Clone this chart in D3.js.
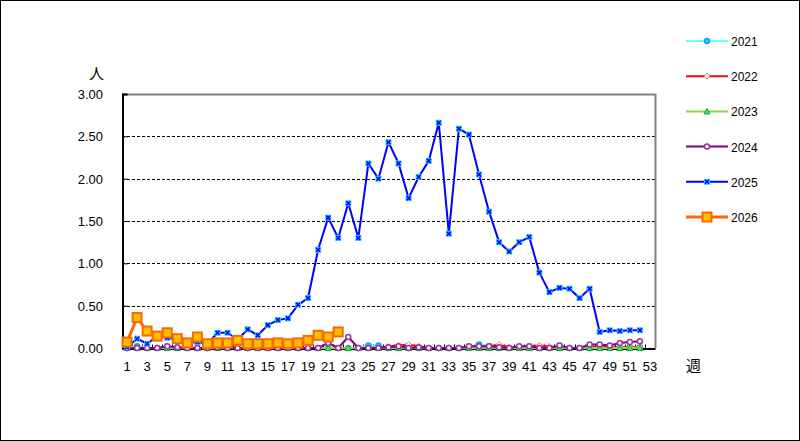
<!DOCTYPE html>
<html>
<head>
<meta charset="utf-8">
<script src="https://cdn.jsdelivr.net/npm/d3@7"></script>
<style>
  body { margin: 0; background: #fff; }
  svg { display: block; }
  text { font-family: "Liberation Sans", Arial, sans-serif; }
</style>
</head>
<body>
<div id="chart"></div>
<script>
// weeks on the x axis
var weeks = d3.range(1, 54);
var xLabels = weeks.filter(function(w) { return w % 2 === 1; });
var yTicks = [0, 0.5, 1, 1.5, 2, 2.5, 3];

// series values, per week (index 0 = week 1)
var y2021 = [0, 0.02, 0, 0, 0, 0, 0, 0, 0, 0, 0, 0, 0, 0, 0, 0, 0, 0, 0, 0,
             0, 0, 0, 0, 0.03, 0.03, 0, 0, 0, 0, 0, 0, 0, 0, 0.01, 0.04, 0.02, 0, 0, 0.01,
             0, 0, 0, 0, 0, 0, 0, 0, 0, 0, 0.01, 0.01];
var y2022 = [0, 0, 0, 0, 0, 0, 0, 0, 0, 0, 0, 0, 0, 0, 0, 0, 0, 0, 0, 0,
             0, 0, 0, 0, 0, 0, 0.02, 0.03, 0.04, 0.02, 0, 0, 0, 0, 0.01, 0.01, 0.02, 0.04, 0.01, 0,
             0.02, 0.03, 0.02, 0, 0, 0, 0.01, 0.02, 0.01, 0.01, 0.01, 0.01];
var y2023 = [0, 0, 0, 0, 0, 0, 0, 0, 0, 0, 0, 0, 0, 0, 0, 0, 0, 0, 0, 0,
             0, 0, 0, 0, 0, 0, 0, 0, 0, 0, 0, 0, 0, 0, 0, 0, 0, 0, 0, 0,
             0, 0, 0, 0, 0, 0, 0, 0, 0, 0, 0, 0];
var y2024 = [0, 0, 0, 0, 0.02, 0.01, 0, 0, 0, 0.01, 0, 0, 0, 0, 0, 0, 0, 0, 0, 0,
             0.06, 0, 0.13, 0, 0, 0, 0.01, 0.02, 0, 0.01, 0, 0, 0, 0, 0.02, 0.02, 0.02, 0.01, 0, 0.02,
             0.02, 0, 0, 0.03, 0, 0, 0.04, 0.04, 0.03, 0.06, 0.07, 0.08];
var y2025 = [0.01, 0.11, 0.05, 0.14, 0.12, 0.10, 0.06, 0.07, 0.05, 0.18, 0.18, 0.10, 0.22, 0.15, 0.27, 0.33, 0.35, 0.51, 0.59, 1.16,
             1.54, 1.30, 1.71, 1.30, 2.18, 2.00, 2.43, 2.18, 1.77, 2.02, 2.21, 2.66, 1.35, 2.59, 2.52, 2.05, 1.61, 1.25, 1.14, 1.25,
             1.31, 0.89, 0.66, 0.71, 0.70, 0.59, 0.70, 0.19, 0.21, 0.20, 0.21, 0.21];
var y2026 = [0.07, 0.36, 0.20, 0.14, 0.18, 0.11, 0.06, 0.13, 0.05, 0.06, 0.06, 0.09, 0.05, 0.05, 0.05, 0.06, 0.05, 0.06, 0.09, 0.15,
             0.13, 0.19];

var seriesNames = ["2021", "2022", "2023", "2024", "2025", "2026"];
var seriesValues = [y2021, y2022, y2023, y2024, y2025, y2026];

// look of each series
var styles = {
  "2021": {line: "#66ffff", width: 2, marker: "circle", fill: "#33ccff", stroke: "#00aaee", size: 4},
  "2022": {line: "#ff0000", width: 2, marker: "diamond", fill: "#ffffff", stroke: "#ff6666", size: 4},
  "2023": {line: "#92d050", width: 2, marker: "triangle", fill: "#66dd66", stroke: "#00aa44", size: 4},
  "2024": {line: "#800080", width: 2, marker: "ring", fill: "#ffffff", stroke: "#993399", size: 4},
  "2025": {line: "#0000ff", width: 2, marker: "cross", fill: "#33ccff", stroke: "#0000ff", size: 5},
  "2026": {line: "#ff6600", width: 3, marker: "square", fill: "#ffc000", stroke: "#ff6600", size: 9}
};

var width = 800, height = 441;
var plot = {left: 122, right: 655, top: 94, bottom: 348};

var svg = d3.select("#chart").append("svg")
    .attr("width", width).attr("height", height);

// outer frame
svg.append("rect")
    .attr("x", 0.5).attr("y", 0.5)
    .attr("width", width - 1).attr("height", height - 1)
    .attr("fill", "#fff").attr("stroke", "#000");

var x = d3.scaleBand().domain(weeks).range([plot.left, plot.right]);
var y = d3.scaleLinear().domain([0, 3]).range([plot.bottom, plot.top]);

// grid lines
svg.append("g").selectAll("line").data(yTicks.slice(1)).enter().append("line")
    .attr("x1", plot.left).attr("x2", plot.right)
    .attr("y1", function(d) { return Math.round(y(d)) + 0.5; })
    .attr("y2", function(d) { return Math.round(y(d)) + 0.5; })
    .attr("stroke", "#000").attr("stroke-dasharray", "3,2");

// top and right border
svg.append("path")
    .attr("d", "M" + plot.left + "," + (plot.top + 0.5) + "H" + (plot.right + 0.5) + "V" + plot.bottom)
    .attr("fill", "none").attr("stroke", "#808080").attr("stroke-width", 2);

// y axis
var yaxis = d3.axisRight(y).tickValues(yTicks).tickSize(5).tickFormat("");
var gy = svg.append("g")
    .attr("transform", "translate(" + (plot.left + 0.5) + ",0)")
    .call(yaxis);
gy.select(".domain").attr("stroke", "#000").attr("stroke-width", 2);
gy.selectAll(".tick line").attr("stroke", "#000");

svg.append("g").selectAll("text").data(yTicks).enter().append("text")
    .attr("x", 103).attr("y", function(d) { return y(d) + 5; })
    .attr("text-anchor", "end")
    .style("font-size", "13px")
    .text(function(d) { return d.toFixed(2); });

// x axis
var xaxis = d3.axisTop(x).tickSize(0).tickFormat("");
var gx = svg.append("g")
    .attr("transform", "translate(0," + (plot.bottom + 0.5) + ")")
    .call(xaxis);
gx.select(".domain").attr("stroke", "#000").attr("stroke-width", 2);
gx.selectAll(".tick").remove();
gx.selectAll(".wk").data(weeks.slice(1)).enter().append("line")
    .attr("x1", function(d) { return Math.round(x(d)) + 0.5; })
    .attr("x2", function(d) { return Math.round(x(d)) + 0.5; })
    .attr("y1", 0).attr("y2", -4)
    .attr("stroke", "#000");

svg.append("g").selectAll("text").data(xLabels).enter().append("text")
    .attr("x", function(d) { return x(d) + x.bandwidth() / 2; })
    .attr("y", 371)
    .attr("text-anchor", "middle")
    .style("font-size", "13px")
    .text(function(d) { return d; });

// axis units
svg.append("text").attr("x", 89).attr("y", 79)
    .style("font-size", "15px").style("font-family", "'Noto Sans CJK JP', sans-serif")
    .text("人");
svg.append("text").attr("x", 686).attr("y", 371)
    .style("font-size", "15px").style("font-family", "'Noto Sans CJK JP', sans-serif")
    .text("週");

// markers
function drawMarker(g, kind, st, cx, cy) {
  var s = st.size;
  if (kind === "circle" || kind === "ring") {
    g.append("circle").attr("cx", cx).attr("cy", cy).attr("r", kind === "ring" ? 2.5 : 2.5)
        .attr("fill", st.fill).attr("stroke", st.stroke).attr("stroke-width", 1.5);
  } else if (kind === "diamond") {
    g.append("path")
        .attr("d", "M" + cx + "," + (cy - 3) + "L" + (cx + 3) + "," + cy + "L" + cx + "," + (cy + 3) + "L" + (cx - 3) + "," + cy + "Z")
        .attr("fill", st.fill).attr("stroke", st.stroke).attr("stroke-width", 1);
  } else if (kind === "triangle") {
    g.append("path")
        .attr("d", "M" + cx + "," + (cy - 3) + "L" + (cx + 3) + "," + (cy + 2.5) + "L" + (cx - 3) + "," + (cy + 2.5) + "Z")
        .attr("fill", st.fill).attr("stroke", st.stroke).attr("stroke-width", 1);
  } else if (kind === "cross") {
    g.append("rect").attr("x", cx - 3).attr("y", cy - 3).attr("width", 6).attr("height", 6)
        .attr("fill", st.fill);
    g.append("path")
        .attr("d", "M" + (cx - 2) + "," + (cy - 2) + "L" + (cx + 2) + "," + (cy + 2) + "M" + (cx + 2) + "," + (cy - 2) + "L" + (cx - 2) + "," + (cy + 2))
        .attr("stroke", st.stroke).attr("stroke-width", 1.5);
  } else if (kind === "square") {
    g.append("rect").attr("x", cx - s / 2).attr("y", cy - s / 2).attr("width", s).attr("height", s)
        .attr("fill", st.fill).attr("stroke", st.stroke).attr("stroke-width", 2);
  }
}

var line = d3.line()
    .x(function(d, i) { return x(i + 1) + x.bandwidth() / 2; })
    .y(function(d) { return y(d); });

seriesNames.forEach(function(name, k) {
  var st = styles[name];
  var vals = seriesValues[k];
  var g = svg.append("g");
  g.append("path").datum(vals)
      .attr("d", line)
      .attr("fill", "none")
      .attr("stroke", st.line)
      .attr("stroke-width", st.width)
      .attr("stroke-linejoin", "round");
  vals.forEach(function(v, i) {
    drawMarker(g, st.marker, st, x(i + 1) + x.bandwidth() / 2, y(v));
  });
});

// legend
var legendY = d3.scalePoint().domain(seriesNames).range([41, 217]);
seriesNames.forEach(function(name) {
  var st = styles[name];
  var ly = legendY(name);
  var g = svg.append("g");
  g.append("line").attr("x1", 686).attr("x2", 728).attr("y1", ly).attr("y2", ly)
      .attr("stroke", st.line).attr("stroke-width", name === "2026" ? 3 : 2);
  drawMarker(g, st.marker, st, 707, ly);
  g.append("text").attr("x", 731).attr("y", ly + 5)
      .style("font-size", "12px")
      .text(name);
});
</script>
</body>
</html>
